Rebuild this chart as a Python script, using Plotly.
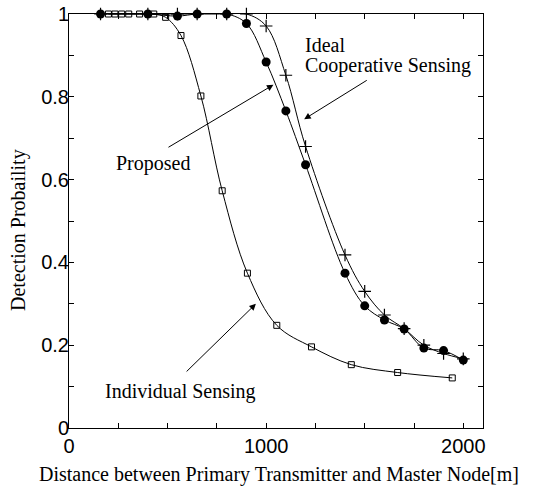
import plotly.graph_objects as go

# Data
prop_x = [160, 400, 550, 650, 800, 900, 1000, 1100, 1200, 1400, 1500, 1600, 1700, 1800, 1900, 2000]
prop_y = [1.0, 1.0, 0.995, 1.0, 1.0, 0.977, 0.884, 0.766, 0.636, 0.374, 0.295, 0.261, 0.239, 0.193, 0.187, 0.164]

ideal_x = [160, 400, 550, 650, 800, 900, 1000, 1100, 1200, 1400, 1500, 1600, 1700, 1800, 1900, 2000]
ideal_y = [1.0, 1.0, 1.0, 1.0, 1.0, 1.0, 0.971, 0.852, 0.680, 0.418, 0.330, 0.273, 0.240, 0.200, 0.180, 0.167]

indiv_x = [200, 233, 267, 303, 358, 430, 490, 568, 669, 777, 905, 1054, 1230, 1432, 1667, 1944]
indiv_y = [1.0, 1.0, 1.0, 1.0, 1.0, 1.0, 0.992, 0.948, 0.802, 0.573, 0.374, 0.248, 0.196, 0.153, 0.134, 0.121]

x_ticks = [0, 1000, 2000]
y_ticks = [0, 0.2, 0.4, 0.6, 0.8, 1]
y_tick_text = ["0", "0.2", "0.4", "0.6", "0.8", "1"]

SERIF = "Liberation Serif"
SANS = "Liberation Sans"

fig = go.Figure()
fig.add_trace(go.Scatter(
    x=indiv_x, y=indiv_y, mode="lines+markers",
    line=dict(color="black", width=1, shape="spline", smoothing=1),
    marker=dict(symbol="square-open", size=6, color="black", line=dict(width=1)),
    showlegend=False, cliponaxis=False))
fig.add_trace(go.Scatter(
    x=ideal_x, y=ideal_y, mode="lines+markers",
    line=dict(color="black", width=1, shape="spline", smoothing=1),
    marker=dict(symbol="cross-thin", size=9, color="black", line=dict(width=1.2, color="black")),
    showlegend=False, cliponaxis=False))
fig.add_trace(go.Scatter(
    x=prop_x, y=prop_y, mode="lines+markers",
    line=dict(color="black", width=1, shape="spline", smoothing=1),
    marker=dict(symbol="circle", size=9, color="black"),
    showlegend=False, cliponaxis=False))

axis_common = dict(
    showgrid=False, zeroline=False, showline=True, linecolor="black", linewidth=1,
    mirror="ticks", ticks="inside", ticklen=5, tickwidth=1, tickcolor="black",
    tickfont=dict(family=SANS, size=20, color="black"), automargin=False,
)
fig.update_xaxes(range=[0, 2100], tickvals=x_ticks,
                 minor=dict(dtick=250, ticks="inside", ticklen=5, tickwidth=1, tickcolor="black"),
                 **axis_common)
fig.update_yaxes(range=[0, 1], tickvals=y_ticks, ticktext=y_tick_text, ticklabelstandoff=-5,
                 minor=dict(dtick=0.1, ticks="inside", ticklen=5, tickwidth=1, tickcolor="black"),
                 **axis_common)

annots = []
# axis titles
annots.append(dict(text="Distance between Primary Transmitter and Master Node[m]",
                   xref="paper", yref="paper", x=0.508, y=-0.112, showarrow=False,
                   xanchor="center", yanchor="middle", font=dict(family=SERIF, size=20, color="black")))
annots.append(dict(text="Detection Probaility", textangle=-90,
                   xref="paper", yref="paper", x=-0.1225, y=0.479, showarrow=False,
                   xanchor="center", yanchor="middle", font=dict(family=SERIF, size=20, color="black")))
# labels
lab_font = dict(family=SERIF, size=20, color="black")
annots.append(dict(text="Ideal", xref="x", yref="y", x=1189, y=(428.5 - 45) / 414.5,
                   showarrow=False, xanchor="left", yanchor="middle", font=lab_font))
annots.append(dict(text="Cooperative Sensing", xref="x", yref="y", x=1189, y=(428.5 - 66) / 414.5,
                   showarrow=False, xanchor="left", yanchor="middle", font=lab_font))
annots.append(dict(text="Proposed", xref="x", yref="y", x=425, y=0.640,
                   showarrow=False, xanchor="center", yanchor="middle", font=lab_font))
annots.append(dict(text="Individual Sensing", xref="x", yref="y", x=568, y=0.088,
                   showarrow=False, xanchor="center", yanchor="middle", font=lab_font))
# arrows
for (hx, hy, tx, ty) in [(1193, 0.746, 1518, 0.842), (1037, 0.829, 497, 0.676), (948, 0.300, 589, 0.133)]:
    annots.append(dict(text="", x=hx, y=hy, ax=tx, ay=ty, xref="x", yref="y", axref="x", ayref="y",
                       showarrow=True, arrowhead=2, arrowsize=1.3, arrowwidth=1, arrowcolor="black"))

fig.update_layout(
    width=540, height=488,
    margin=dict(l=69, r=57, t=14, b=60, autoexpand=False),
    paper_bgcolor="white", plot_bgcolor="white",
    annotations=annots,
)

fig.write_html("out.html", config={"displayModeBar": False},
               post_script="document.body.style.margin='0';document.body.style.overflow='hidden';")
